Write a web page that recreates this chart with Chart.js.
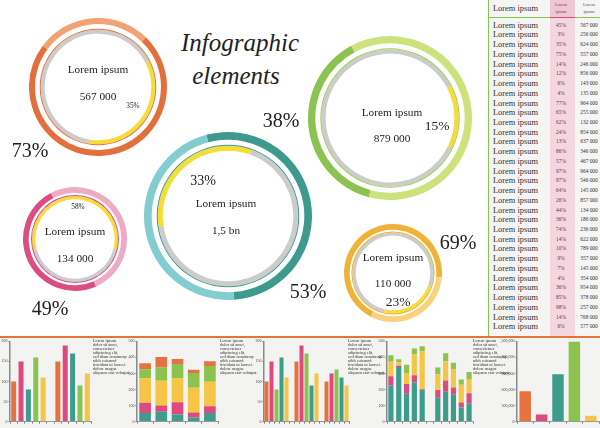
<!DOCTYPE html>
<html>
<head>
<meta charset="utf-8">
<script src="https://cdn.jsdelivr.net/npm/chart.js"></script>
<style>
  body { margin: 0; background: #fff; }
  #page { position: relative; width: 600px; height: 428px; overflow: hidden; font-family: 'Liberation Serif', serif; color: #222; background: #fff; }
  canvas { position: absolute; }
  .lbl { position: absolute; transform: translate(-50%, -50%); white-space: nowrap; line-height: 1; }
  .note { position: absolute; top: 339px; font-size: 4.3px; line-height: 3.95px; color: #333; white-space: nowrap; }
  .row { position: absolute; left: 488px; width: 112px; height: 10px; }
  .row span { position: absolute; top: 50%; transform: translateY(-50%); white-space: nowrap; line-height: 1; }
</style>
</head>
<body>
<div id="page">
  <div style="position:absolute;left:0;top:336px;width:600px;height:92px;background:#f3f3f1;border-top:2px solid #e8733a;"></div>
  <div style="position:absolute;left:488px;top:0;width:112px;height:336px;background:#f5f5f3;border-left:1.5px solid #8cc350;box-sizing:border-box;"></div>
  <div style="position:absolute;left:550px;top:0;width:25px;height:336px;background:#f3d6df;"></div>
  <div style="position:absolute;left:550px;top:0;width:25px;height:17px;background:#efc6d3;"></div>
  <div style="position:absolute;left:489px;top:16.5px;width:111px;height:1.5px;background:#8cc350;"></div>
  <div style="position:absolute;left:550px;top:16.5px;width:25px;height:1.5px;background:#d9477d;"></div>
  <div id="table"></div>

  <div class="lbl" style="left:240px;top:42px;font-size:25px;font-style:italic;">Infographic</div>
  <div class="lbl" style="left:236px;top:75px;font-size:25px;font-style:italic;">elements</div>

  <div id="rings"></div>
  <div id="bars"></div>
</div>

<script>
// ring charts: outer ring percent, inner (yellow) percent, centre value
const ringTitle = "Lorem ipsum";
const outerPct = [73, 53, 38, 49, 69];
const innerPct = [35, 33, 15, 58, 23];
const centerValues = ["567 000", "1,5 bn", "879 000", "134 000", "110 000"];

// table
const tableNames = "Lorem ipsum";
const tablePct = [45, 3, 35, 75, 14, 12, 6, 4, 77, 65, 62, 24, 13, 86, 57, 97, 97, 64, 26, 44, 36, 74, 14, 10, 9, 7, 4, 36, 85, 98, 14, 6];
const tableVal = ["567 000", "256 000", "624 000", "557 000", "246 000", "856 000", "143 000", "135 000", "964 000", "255 000",
  "132 000", "854 000", "637 000", "346 000", "467 000", "964 000", "546 000", "145 000", "857 000", "134 000",
  "186 000", "236 000", "622 000", "789 000", "357 000", "145 000", "354 000", "954 000", "378 000", "257 000",
  "768 000", "577 000"];

// small bar charts
const bars1 = [100, 150, 80, 160, 110, null, 150, 190, 170, 90, 120];
const stack2Teal = [53, 61, 45, 25, 53];
const stack2Pink = [64, 39, 76, 32, 43];
const stack2Yellow = [153, 154, 149, 154, 152];
const stack2Green = [56, 84, 89, 92, 98];
const stack2Orange = [37, 64, 32, 21, 31];
const bars3 = [100, 150, 80, 160, 110, null, 150, 190, 170, 90, 120, null, 100, 120, 130, 110, 90];
const stack4Teal = [225, 340, 174, 246, 197, null, 148, 186, 168, 88, 115];
const stack4Pink = [58, 8, 60, 43, 4, null, 49, 70, 45, 31, 61];
const stack4Yellow = [90, 21, 69, 129, 238, null, 98, 121, 113, 111, 90];
const stack4Green = [41, 20, 52, 37, 30, null, 43, 49, 41, 32, 43];
const bars5 = [567000, 135000, 885000, 1500000, 110000];
const noteLines = ["Lorem ipsum", "dolor sit amet,", "consectetuer", "adipiscing elit,", "sed diam nonummy",
  "nibh euismod", "tincidunt ut laoreet", "dolore magna", "aliquam erat volutpat."];

const orange = "#e6733f", pink = "#dc4a80", teal = "#3e9c8c", green = "#8cc350", yellow = "#f6c546";
const page = document.getElementById("page");

// ---- table
let html = `<div class="row" style="top:4px"><span style="left:5px;font-size:8.4px;color:#333">${tableNames}</span>
  <span style="left:73px;transform:translate(-50%,-50%);text-align:center;font-size:4.6px;line-height:6.6px;color:#8a3b52">Lorem<br>ipsum</span>
  <span style="left:101px;transform:translate(-50%,-50%);text-align:center;font-size:4.6px;line-height:6.6px;color:#555">Lorem<br>ipsum</span></div>`;
tablePct.forEach((p, i) => {
  html += `<div class="row" style="top:${20.7 + i * 9.73}px">
    <span style="left:5px;font-size:8.4px;color:#333">${tableNames}</span>
    <span style="left:73px;transform:translate(-50%,-50%);font-size:5.4px;color:#6b3444">${p}%</span>
    <span style="left:101px;transform:translate(-50%,-50%);font-size:5.4px;color:#333">${tableVal[i]}</span></div>`;
});
document.getElementById("table").innerHTML = html;

// ---- rings
const ringLayout = [
  { x: 98, y: 87, r: 69, t1: 6, gap: 4.7, t2: 4, dark: "#e3703c", light: "#f2a373", line: "#e3703c", rot1: 44, rot2: 63 },
  { x: 228, y: 216, r: 84, t1: 7.7, gap: 5, t2: 5, dark: "#3d9a8c", light: "#82cdd0", line: "#3d9a8c", rot1: -15, rot2: 261 },
  { x: 390, y: 118, r: 82, t1: 7.3, gap: 5, t2: 4.3, dark: "#8cc350", light: "#cde27c", line: "#9ccc55", rot1: 195, rot2: 62 },
  { x: 75, y: 239, r: 52, t1: 5.7, gap: 2.3, t2: 3.3, dark: "#dc4d82", light: "#efabc6", line: "#dc4d82", rot1: 156, rot2: 255 },
  { x: 393, y: 273, r: 49, t1: 5.7, gap: 1.7, t2: 3.3, dark: "#f0b33a", light: "#f8d27c", line: "#f0b33a", rot1: 207, rot2: 110 }
];
const ringText = [
  { tx: 98, ty: 70, vy: 97, p: [133, 106, 7.3], big: [30, 150] },
  { tx: 226, ty: 204, vy: 231, p: [203, 181, 14], big: [308, 291] },
  { tx: 392, ty: 113, vy: 139, p: [437, 126, 13.5], big: [281, 120] },
  { tx: 75, ty: 232, vy: 259, p: [78, 207, 7.3], big: [50, 308] },
  { tx: 393, ty: 258, vy: 284, p: [398, 302, 13.5], big: [458, 242] }
];

ringLayout.forEach((L, i) => {
  const c = document.createElement("canvas");
  c.width = L.r * 2; c.height = L.r * 2;
  c.style.left = (L.x - L.r) + "px"; c.style.top = (L.y - L.r) + "px";
  page.appendChild(c);
  const stack = L.t1 + L.gap + 1 + L.t2;
  new Chart(c, {
    type: "doughnut",
    data: {
      labels: ["a", "b"],
      datasets: [
        { data: [outerPct[i], 100 - outerPct[i]], backgroundColor: [L.dark, L.light], weight: L.t1, rotation: L.rot1 },
        { data: [1], backgroundColor: ["rgba(0,0,0,0)"], weight: L.gap },
        { data: [1], backgroundColor: [L.line], weight: 1 },
        { data: [innerPct[i], 100 - innerPct[i]], backgroundColor: ["#f6dc36", "#cccccc"], weight: L.t2, rotation: L.rot2 }
      ]
    },
    options: {
      responsive: false, animation: false, events: [],
      cutout: L.r - stack,
      elements: { arc: { borderWidth: 0 } },
      layout: { padding: 0 },
      plugins: { legend: { display: false }, tooltip: { enabled: false } }
    }
  });
  const T = ringText[i];
  page.insertAdjacentHTML("beforeend",
    `<div class="lbl" style="left:${T.tx}px;top:${T.ty}px;font-size:11.3px">${ringTitle}</div>
     <div class="lbl" style="left:${T.tx}px;top:${T.vy}px;font-size:11.3px">${centerValues[i]}</div>
     <div class="lbl" style="left:${T.p[0]}px;top:${T.p[1]}px;font-size:${T.p[2]}px">${innerPct[i]}%</div>
     <div class="lbl" style="left:${T.big[0]}px;top:${T.big[1]}px;font-size:20px">${outerPct[i]}%</div>`);
});

// ---- bar charts
function barChart(left, width, labels, datasets, yMax, yStep, axisW, barPct) {
  const c = document.createElement("canvas");
  c.width = width; c.height = 87;
  c.style.left = left + "px"; c.style.top = "338px";
  page.appendChild(c);
  new Chart(c, {
    type: "bar",
    data: { labels, datasets },
    options: {
      responsive: false, animation: false, events: [],
      layout: { padding: { top: 3, right: 1, left: 0, bottom: 0 } },
      plugins: { legend: { display: false }, tooltip: { enabled: false } },
      datasets: { bar: { categoryPercentage: 1, barPercentage: barPct } },
      scales: {
        x: {
          stacked: true,
          ticks: { display: false },
          grid: { drawOnChartArea: false, tickLength: 2, color: "#555", lineWidth: 0.8 },
          border: { color: "#999", width: 1 },
          afterFit: s => { s.height = 3; }
        },
        y: {
          stacked: true, min: 0, max: yMax,
          ticks: { stepSize: yStep, font: { family: "Liberation Serif", size: 4 }, color: "#444", padding: 1 },
          grid: { drawOnChartArea: false, tickLength: 1.5, color: "#666" },
          border: { color: "#8a8a8a", width: 1.5 },
          afterFit: s => { s.width = axisW; }
        }
      }
    }
  });
}

const cycle1 = [orange, pink, teal, green, yellow];
const cycle3 = [orange, pink, green, teal, yellow];
barChart(0, 92, bars1.map((v, i) => i), [{ data: bars1, backgroundColor: bars1.map((v, i) => cycle1[i % 6] || "#fff") }], 200, 50, 10, 0.68);
barChart(127, 92, stack2Teal.map((v, i) => i), [
  { data: stack2Teal, backgroundColor: teal },
  { data: stack2Pink, backgroundColor: pink },
  { data: stack2Yellow, backgroundColor: yellow },
  { data: stack2Green, backgroundColor: green },
  { data: stack2Orange, backgroundColor: orange }
], 500, 100, 10, 0.72);
barChart(254, 96, bars3.map((v, i) => i), [{ data: bars3, backgroundColor: bars3.map((v, i) => cycle3[i % 6] || "#fff") }], 200, 50, 10, 0.8);
barChart(377, 97, stack4Teal.map((v, i) => i), [
  { data: stack4Teal, backgroundColor: teal },
  { data: stack4Pink, backgroundColor: pink },
  { data: stack4Yellow, backgroundColor: yellow },
  { data: stack4Green, backgroundColor: green }
], 500, 100, 10, 0.66);
barChart(500, 100, bars5.map((v, i) => i), [{ data: bars5, backgroundColor: [orange, pink, teal, green, yellow] }], 1500000, 300000, 17, 0.7);

[93, 220, 348, 473].forEach(x => {
  page.insertAdjacentHTML("beforeend", `<div class="note" style="left:${x}px">${noteLines.join("<br>")}</div>`);
});
</script>
</body>
</html>
